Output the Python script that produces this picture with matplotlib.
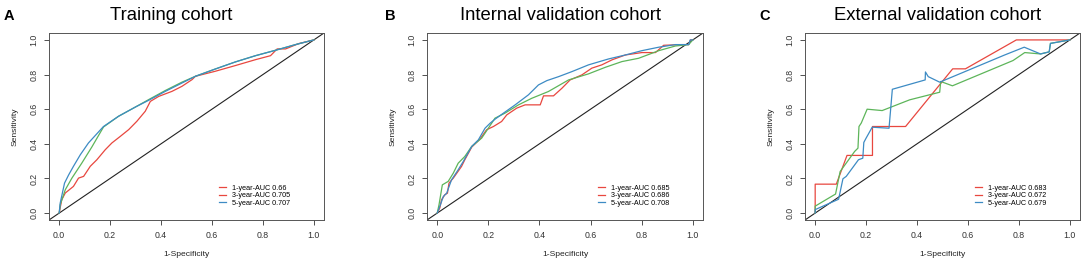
import matplotlib
matplotlib.use("Agg")
import matplotlib.pyplot as plt
from matplotlib.lines import Line2D

plt.rcParams['font.family'] = ['Liberation Sans', 'DejaVu Sans']

RED = '#E8473F'
GREEN = '#5DB55A'
BLUE = '#3D8BC4'

panel_letters = ["A", "B", "C"]
panel_titles = ["Training cohort", "Internal validation cohort", "External validation cohort"]
legend_labels = [
    ["1-year-AUC 0.66", "3-year-AUC 0.705", "5-year-AUC 0.707"],
    ["1-year-AUC 0.685", "3-year-AUC 0.686", "5-year-AUC 0.708"],
    ["1-year-AUC 0.683", "3-year-AUC 0.672", "5-year-AUC 0.679"],
]

# Training cohort
a_1y_x = [0, 0.01, 0.024, 0.056, 0.076, 0.096, 0.122, 0.148, 0.181, 0.207, 0.24, 0.273, 0.305, 0.338,
          0.358, 0.391, 0.443, 0.482, 0.522, 0.535, 0.613, 0.692, 0.771, 0.83, 0.856, 0.889, 0.941, 1.0]
a_1y_y = [0, 0.077, 0.116, 0.154, 0.202, 0.212, 0.27, 0.308, 0.366, 0.405, 0.443, 0.482, 0.53, 0.588,
          0.645, 0.674, 0.703, 0.732, 0.771, 0.79, 0.819, 0.852, 0.886, 0.909, 0.948, 0.948, 0.979, 1.0]
a_3y_x = [0, 0.004, 0.024, 0.05, 0.089, 0.128, 0.174, 0.233, 0.3, 0.351, 0.417, 0.482, 0.535, 0.613,
          0.692, 0.771, 0.849, 0.928, 1.0]
a_3y_y = [0, 0.048, 0.135, 0.202, 0.289, 0.381, 0.497, 0.559, 0.613, 0.655, 0.708, 0.756, 0.79, 0.832,
          0.873, 0.909, 0.94, 0.973, 1.0]
a_5y_x = [0, 0.004, 0.021, 0.037, 0.056, 0.083, 0.115, 0.174, 0.233, 0.3, 0.351, 0.417, 0.482, 0.535,
          0.613, 0.692, 0.771, 0.849, 0.928, 1.0]
a_5y_y = [0, 0.058, 0.173, 0.22, 0.27, 0.337, 0.405, 0.5, 0.559, 0.613, 0.651, 0.703, 0.751, 0.79,
          0.832, 0.873, 0.909, 0.94, 0.973, 1.0]

# Internal validation cohort
b_1y_x = [0, 0.01, 0.017, 0.03, 0.04, 0.046, 0.063, 0.095, 0.108, 0.135, 0.167, 0.193, 0.22, 0.252,
          0.272, 0.311, 0.344, 0.403, 0.416, 0.455, 0.488, 0.52, 0.566, 0.605, 0.644, 0.684, 0.736,
          0.801, 0.854, 0.886, 0.958, 0.984, 0.991, 1.0]
b_1y_y = [0, 0.029, 0.077, 0.106, 0.115, 0.173, 0.202, 0.269, 0.308, 0.381, 0.427, 0.481, 0.5, 0.529,
          0.567, 0.606, 0.625, 0.625, 0.677, 0.677, 0.721, 0.769, 0.798, 0.837, 0.856, 0.885, 0.913,
          0.927, 0.927, 0.969, 0.973, 0.973, 1.0, 1.0]
b_3y_x = [0, 0.007, 0.02, 0.043, 0.063, 0.082, 0.108, 0.135, 0.174, 0.2, 0.226, 0.265, 0.318, 0.37,
          0.435, 0.514, 0.592, 0.658, 0.723, 0.788, 0.867, 0.932, 0.984, 1.0]
b_3y_y = [0, 0.048, 0.163, 0.183, 0.231, 0.288, 0.327, 0.385, 0.433, 0.49, 0.548, 0.577, 0.625, 0.663,
          0.702, 0.769, 0.804, 0.842, 0.875, 0.894, 0.938, 0.965, 0.973, 1.0]
b_5y_x = [0, 0.01, 0.024, 0.037, 0.056, 0.082, 0.102, 0.135, 0.161, 0.187, 0.207, 0.226, 0.259, 0.305,
          0.357, 0.396, 0.429, 0.475, 0.527, 0.592, 0.67, 0.736, 0.801, 0.867, 0.932, 0.984, 0.99, 1.0]
b_5y_y = [0, 0.038, 0.096, 0.115, 0.192, 0.25, 0.298, 0.385, 0.423, 0.49, 0.519, 0.542, 0.577, 0.625,
          0.683, 0.74, 0.765, 0.788, 0.817, 0.856, 0.89, 0.913, 0.938, 0.958, 0.973, 0.973, 1.0, 1.0]

# External validation cohort
c_1y_x = [0, 0, 0.083, 0.125, 0.225, 0.225, 0.355, 0.54, 0.59, 0.79, 1.0]
c_1y_y = [0, 0.167, 0.167, 0.333, 0.333, 0.5, 0.5, 0.833, 0.833, 1.0, 1.0]
c_3y_x = [0, 0, 0.08, 0.098, 0.155, 0.168, 0.172, 0.181, 0.204, 0.263, 0.371, 0.489, 0.493, 0.539,
          0.777, 0.823, 0.885, 0.919, 0.924, 1.0]
c_3y_y = [0, 0.04, 0.11, 0.24, 0.356, 0.375, 0.5, 0.52, 0.6, 0.592, 0.654, 0.698, 0.76, 0.735,
          0.881, 0.927, 0.919, 0.931, 0.98, 1.0]
c_5y_x = [0, 0, 0.092, 0.109, 0.122, 0.17, 0.187, 0.191, 0.2, 0.224, 0.29, 0.303, 0.432, 0.433,
          0.444, 0.489, 0.744, 0.821, 0.885, 0.919, 0.924, 1.0]
c_5y_y = [0, 0.02, 0.08, 0.198, 0.212, 0.308, 0.317, 0.408, 0.433, 0.496, 0.49, 0.715, 0.769, 0.815,
          0.788, 0.756, 0.913, 0.958, 0.919, 0.931, 0.98, 1.0]

curves = [
    [(a_1y_x, a_1y_y), (a_3y_x, a_3y_y), (a_5y_x, a_5y_y)],
    [(b_1y_x, b_1y_y), (b_3y_x, b_3y_y), (b_5y_x, b_5y_y)],
    [(c_1y_x, c_1y_y), (c_3y_x, c_3y_y), (c_5y_x, c_5y_y)],
]
curve_colors = [RED, GREEN, BLUE]
# the original legend shows the 3-year key in red as well
legend_colors = [RED, RED, BLUE]

ticks = [0.0, 0.2, 0.4, 0.6, 0.8, 1.0]
tick_labels = ["0.0", "0.2", "0.4", "0.6", "0.8", "1.0"]

W, H = 1084, 262
fig = plt.figure(figsize=(W / 100, H / 100), dpi=100)

ax_left = [49, 427, 805]
ax_w = [275, 276, 275]
title_cx = [171.5, 560, 938]
letter_x = [4, 385, 759]

for i in range(3):
    ax = fig.add_axes([ax_left[i] / W, 42 / H, ax_w[i] / W, 187 / H])
    ax.plot([-0.04, 1.04], [-0.04, 1.04], color='#222222', lw=0.8)
    for (xs, ys), col in zip(curves[i], curve_colors):
        ax.plot(xs, ys, color=col, lw=0.9)
    ax.set_xlim(-0.04, 1.04)
    ax.set_ylim(-0.04, 1.04)
    ax.set_xticks(ticks)
    ax.set_xticklabels(tick_labels)
    ax.set_yticks(ticks)
    ax.set_yticklabels(tick_labels, rotation=90, va='center')
    ax.tick_params(direction='out', length=3.5, width=0.6, labelsize=6.3, colors='#333333')
    ax.tick_params(axis='x', pad=4.5)
    ax.tick_params(axis='y', pad=4)
    for s in ax.spines.values():
        s.set_color('#555555')
        s.set_linewidth(0.7)
    ax.set_xlabel("1-Specificity", fontsize=6.1, color='#222222')
    ax.set_ylabel("Sensitivity", fontsize=6.1, color='#222222')
    ax.xaxis.set_label_coords(0.5, -35 / 187)
    ax.yaxis.set_label_coords(-34 / ax_w[i], 0.5)
    ax.xaxis.label.set_va('center')
    ax.yaxis.label.set_va('center')

    handles = [Line2D([], [], color=c, lw=0.9) for c in legend_colors]
    ax.legend(handles, legend_labels[i], loc='upper left', bbox_to_anchor=(0.60, 0.215),
              frameon=False, fontsize=5.2, handlelength=1.0, handletextpad=0.8,
              labelspacing=0.05, borderpad=0.2)

    fig.text(title_cx[i] / W, 1 - 19.5 / H, panel_titles[i], fontsize=13.3,
             ha='center', va='baseline')
    fig.text(letter_x[i] / W, 1 - 19.5 / H, panel_letters[i], fontsize=10.5,
             fontweight='bold', ha='left', va='baseline')

fig.savefig("out.png", dpi=100)
